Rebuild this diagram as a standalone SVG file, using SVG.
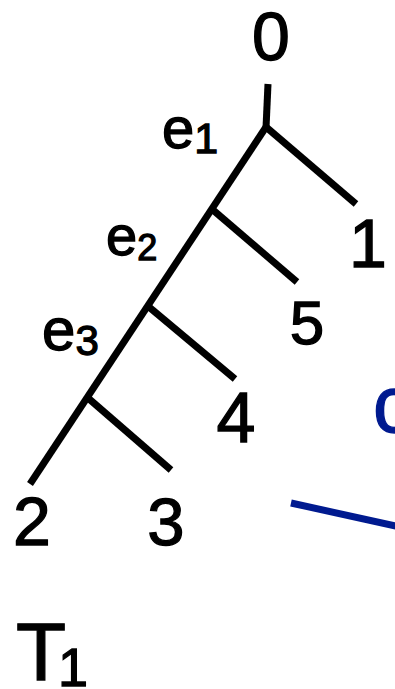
<svg xmlns="http://www.w3.org/2000/svg" width="395" height="689" viewBox="0 0 395 689">
<style>
.lbl{font-family:"Liberation Sans",Arial,sans-serif;fill:#000;stroke:#000;stroke-width:1.3;}
.edge{stroke:#000;stroke-width:7;fill:none;stroke-linecap:butt;}
.blue{stroke:#001a8f;stroke-width:7;fill:none;}
</style>
<rect width="395" height="689" fill="#fff"/>
<g id="connectors">
<line class="edge" x1="268" y1="84" x2="266" y2="128"/>
<line class="edge" x1="266" y1="127" x2="30" y2="484"/>
<line class="edge" x1="266" y1="127" x2="356" y2="204"/>
<line class="edge" x1="213" y1="210" x2="297" y2="282"/>
<line class="edge" x1="149" y1="307" x2="235" y2="379"/>
<line class="edge" x1="88" y1="398" x2="171" y2="470"/>
<line class="blue" x1="291" y1="503" x2="400" y2="527"/>
</g>
<g id="node-0"><text class="lbl" x="271" y="60" font-size="68" text-anchor="middle">0</text></g>
<g id="node-1"><text class="lbl" x="368" y="267" font-size="68" text-anchor="middle">1</text></g>
<g id="node-5"><text class="lbl" x="307" y="344" font-size="62" text-anchor="middle">5</text></g>
<g id="node-4"><text class="lbl" x="236" y="442" font-size="70" text-anchor="middle">4</text></g>
<g id="node-2"><text class="lbl" x="32" y="545" font-size="68" text-anchor="middle">2</text></g>
<g id="node-3"><text class="lbl" x="166" y="545" font-size="67" text-anchor="middle">3</text></g>
<g id="label-e1"><text class="lbl" x="162" y="148" font-size="58">e<tspan font-size="43" dy="5">1</tspan></text></g>
<g id="label-e2"><text class="lbl" x="106" y="255" font-size="56">e<tspan font-size="36" dy="5">2</tspan></text></g>
<g id="label-e3"><text class="lbl" x="42" y="350" font-size="60">e<tspan font-size="42" dy="5">3</tspan></text></g>
<g id="label-T1"><text class="lbl" x="16" y="680" font-size="82" textLength="40">T</text><text class="lbl" x="58" y="686" font-size="54">1</text></g>
<g id="partial"><text x="373" y="432" font-size="79" font-family="'Liberation Sans',Arial,sans-serif" fill="#001a8f" stroke="#001a8f" stroke-width="1.3">c</text></g>
</svg>
